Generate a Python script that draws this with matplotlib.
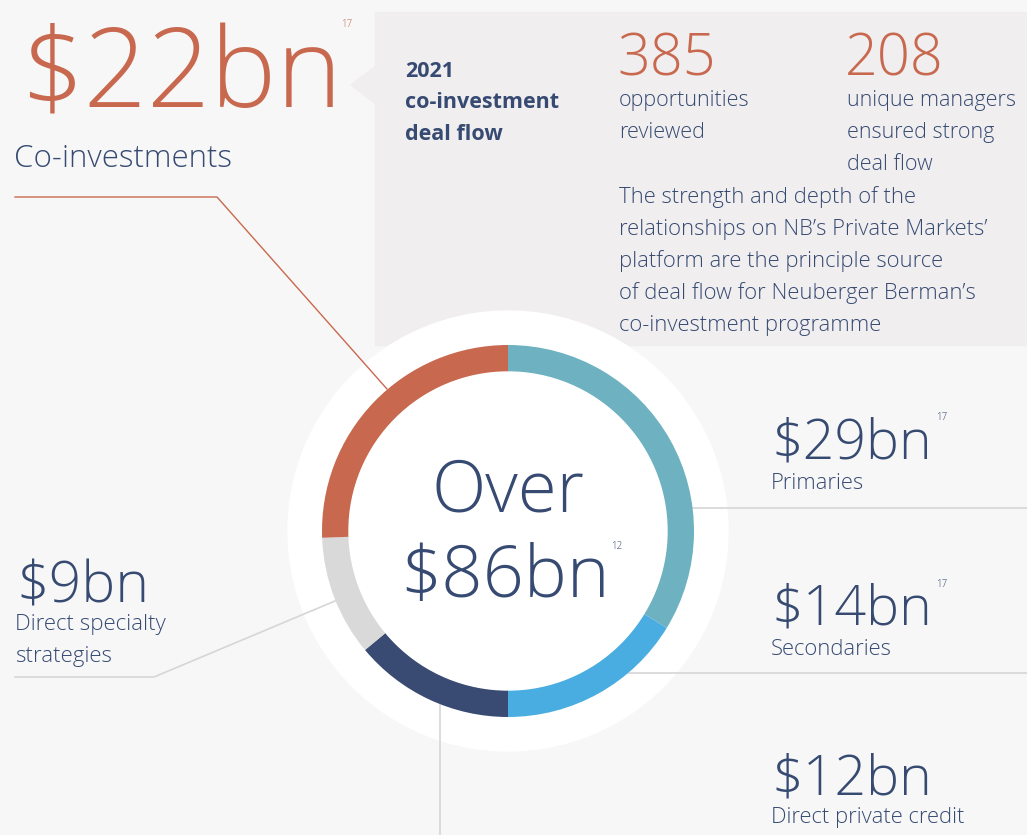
import matplotlib.pyplot as plt
from matplotlib.patches import Circle, Rectangle, Polygon

W, H = 1027, 835

# donut data (clockwise from 12 o'clock)
segments = ["Primaries", "Secondaries", "Direct private credit",
            "Direct specialty strategies", "Co-investments"]
values_bn = [29, 14, 12, 9, 22]
seg_colors = ["#6eb2c1", "#4aade1", "#394b72", "#d9d9d9", "#c8694f"]

total_label = ["Over", "$86bn"]
total_note = "12"

# deal flow stats
deal_title = ["2021", "co-investment", "deal flow"]
stat_numbers = ["385", "208"]
stat_labels = [["opportunities", "reviewed"],
               ["unique managers", "ensured strong", "deal flow"]]
paragraph = ["The strength and depth of the",
             "relationships on NB\u2019s Private Markets\u2019",
             "platform are the principle source",
             "of deal flow for Neuberger Berman\u2019s",
             "co-investment programme"]

ORANGE = "#c8694f"
NAVY = "#364a72"
BG = "#f7f7f7"
BOX = "#f0eeef"
LINE = "#d6d6d6"

plt.rcParams["font.family"] = ["Open Sans", "DejaVu Sans"]

fig = plt.figure(figsize=(W / 100, H / 100), dpi=100, facecolor=BG)
ax = fig.add_axes([0, 0, 1, 1])
ax.set_facecolor(BG)


def y(py):
    return H - py


cx, cy = 508, 531
r_out, ring = 186, 27

# grey info box with pointer
ax.add_patch(Rectangle((375, y(345)), W - 375, 333, color=BOX, zorder=1))
ax.add_patch(Polygon([(351, y(85)), (376, y(66)), (376, y(104))], color=BOX, zorder=1))

# white halo
ax.add_patch(Circle((cx, y(cy)), 220, color="white", zorder=2))

# leader lines
ax.plot([15, 217, 387], [y(197), y(197), y(389)], color=ORANGE, lw=1, zorder=3)
ax.plot([15, 154, 335], [y(677), y(677), y(601)], color=LINE, lw=1.2, zorder=3)
ax.plot([440, 440], [y(705), 0], color=LINE, lw=1.2, zorder=3)
ax.plot([690, W], [y(508), y(508)], color=LINE, lw=1.2, zorder=3)
ax.plot([626, W], [y(673), y(673)], color=LINE, lw=1.2, zorder=3)

wedges, _ = ax.pie(values_bn, colors=seg_colors, startangle=90, counterclock=False,
                   center=(cx, y(cy)), radius=r_out,
                   wedgeprops=dict(width=ring, linewidth=0))
for w in wedges:
    w.set_zorder(4)
ax.add_patch(Circle((cx, y(cy)), r_out - ring, color="white", zorder=4))

ax.set_xlim(0, W)
ax.set_ylim(0, H)
ax.set_aspect("auto")
ax.axis("off")

LIGHT = "light"
LAB = 15.5

# centre total
ax.text(cx, y(512), total_label[0], ha="center", va="baseline", fontsize=51,
        color=NAVY, weight=LIGHT, zorder=5)
ax.text(505, y(597), total_label[1], ha="center", va="baseline", fontsize=52,
        color=NAVY, weight=LIGHT, zorder=5)
ax.text(611, y(549), total_note, ha="left", va="baseline", fontsize=7,
        color=NAVY, weight=LIGHT, zorder=5)

# co-investments (top left)
ax.text(20, y(108), "$%dbn" % values_bn[4], ha="left", va="baseline", fontsize=80,
        color=ORANGE, weight=LIGHT, zorder=5)
ax.text(341, y(27), "17", ha="left", va="baseline", fontsize=7, color=ORANGE,
        weight=LIGHT, zorder=5)
ax.text(14, y(167), segments[4], ha="left", va="baseline", fontsize=22.5,
        color=NAVY, weight=LIGHT, zorder=5)

# right column
right_items = [(0, 458, 489, True), (1, 625, 655, True), (2, 795, 823, False)]
for idx, base_num, base_lab, note in right_items:
    ax.text(771, y(base_num), "$%dbn" % values_bn[idx], ha="left", va="baseline",
            fontsize=40, color=NAVY, weight=LIGHT, zorder=5)
    if note:
        ax.text(936, y(base_num - 38), "17", ha="left", va="baseline", fontsize=7,
                color=NAVY, weight=LIGHT, zorder=5)
    ax.text(771, y(base_lab), segments[idx], ha="left", va="baseline",
            fontsize=15.8, color=NAVY, weight=LIGHT, zorder=5)

# direct specialty (left)
ax.text(16, y(602), "$%dbn" % values_bn[3], ha="left", va="baseline", fontsize=41,
        color=NAVY, weight=LIGHT, zorder=5)
ax.text(15, y(630), "Direct specialty", ha="left", va="baseline", fontsize=16,
        color=NAVY, weight=LIGHT, zorder=5)
ax.text(15, y(662), "strategies", ha="left", va="baseline", fontsize=16,
        color=NAVY, weight=LIGHT, zorder=5)

# box contents
for i, line in enumerate(deal_title):
    ax.text(405, y(77 + 31.5 * i), line, ha="left", va="baseline", fontsize=15.5,
            color=NAVY, weight="bold", zorder=5)

for xs, num, labels in zip([617, 845], stat_numbers, stat_labels):
    ax.text(xs, y(75), num, ha="left", va="baseline", fontsize=41.5,
            color=ORANGE, weight=LIGHT, zorder=5)
    for i, line in enumerate(labels):
        ax.text(xs + 2, y(106 + 32 * i), line, ha="left", va="baseline",
                fontsize=LAB, color=NAVY, weight=LIGHT, zorder=5)

for i, line in enumerate(paragraph):
    ax.text(619, y(203 + 32 * i), line, ha="left", va="baseline", fontsize=LAB + 0.3,
            color=NAVY, weight=LIGHT, zorder=5)

fig.savefig("out.png", dpi=100, facecolor=BG)
